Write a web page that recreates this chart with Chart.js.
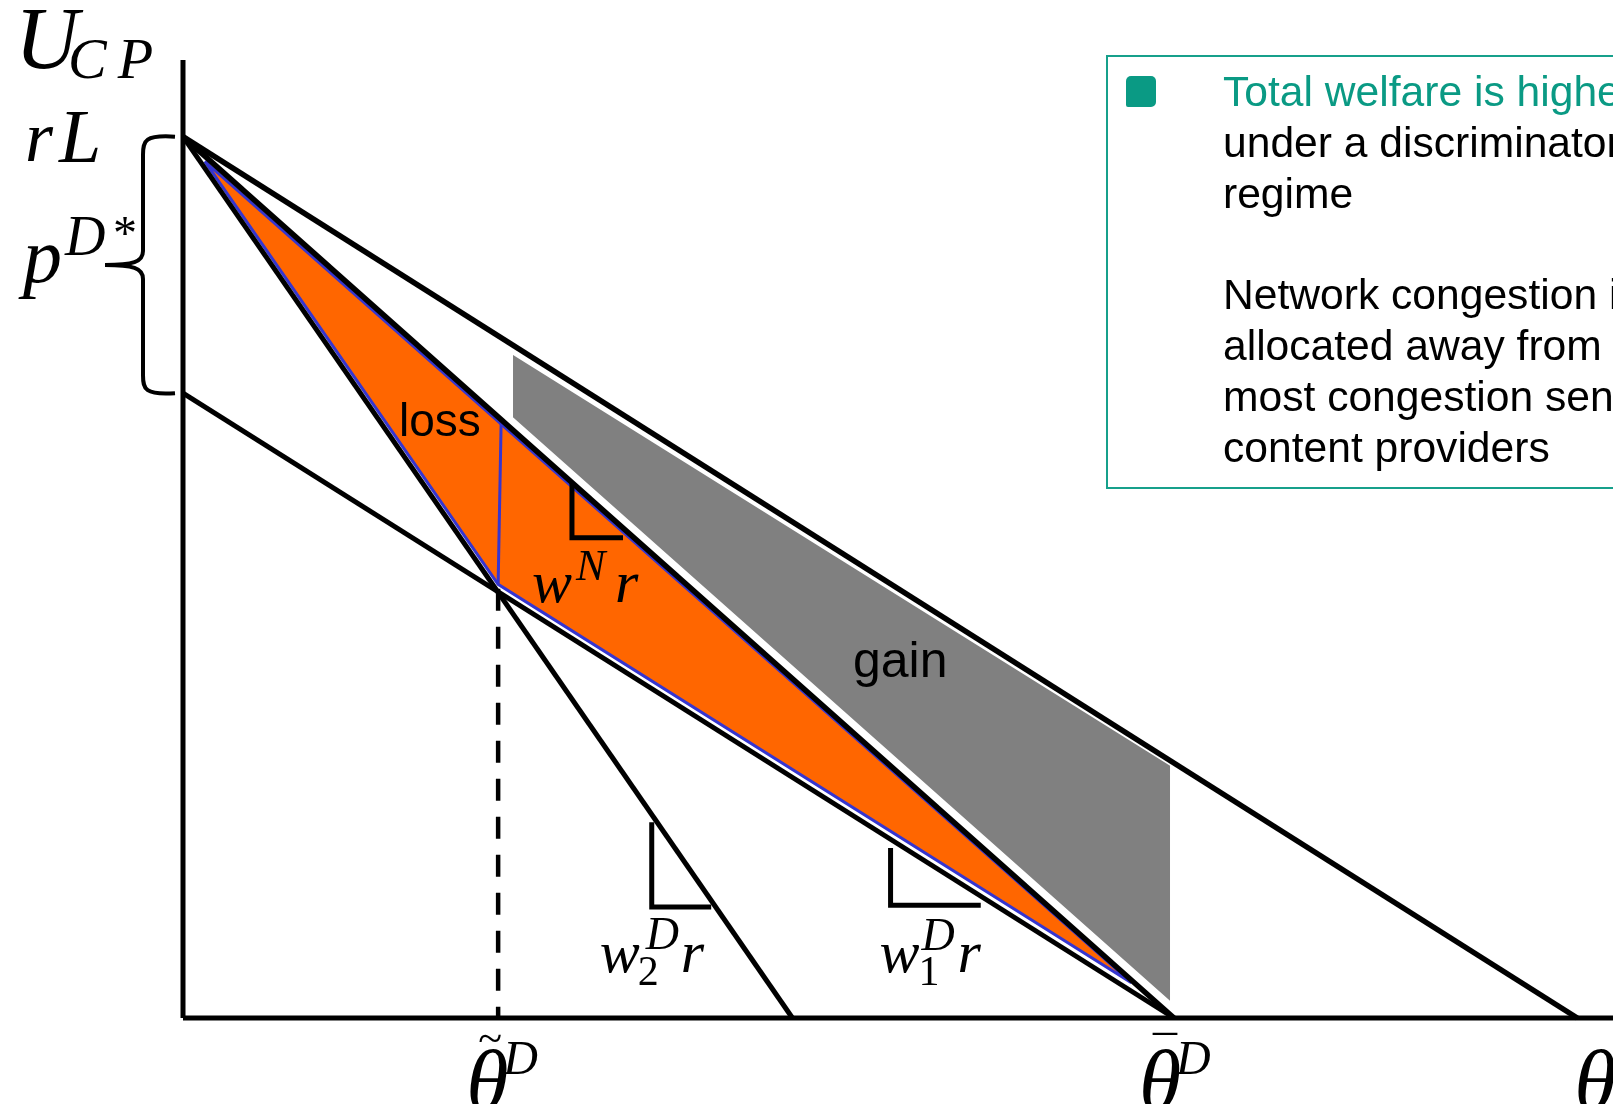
<!DOCTYPE html>
<html>
<head>
<meta charset="utf-8">
<script src="https://cdn.jsdelivr.net/npm/chart.js@4.4.1/dist/chart.umd.min.js"></script>
<style>
html,body{margin:0;padding:0;background:#fff;width:1613px;height:1104px;overflow:hidden;}
#wrap{position:relative;width:1613px;height:1104px;overflow:hidden;}
#c{position:absolute;left:0;top:0;}
.lbl{position:absolute;white-space:nowrap;color:#000;}
.serif{font-family:'Liberation Serif','Times New Roman',serif;font-style:italic;}
.up{font-family:'Liberation Serif','Times New Roman',serif;font-style:normal;}
.sans{font-family:'Liberation Sans',Arial,sans-serif;}
#box{position:absolute;left:1106px;top:55px;width:640px;height:434px;border:2px solid #16A08B;box-sizing:border-box;}
#bullet{position:absolute;left:1126px;top:76px;width:30px;height:31px;background:#0A9A84;border-radius:5px 5px 5px 2px;}
#boxtext{position:absolute;left:1223px;top:66px;font-family:'Liberation Sans',Arial,sans-serif;font-size:42.6px;line-height:50.8px;color:#000;white-space:nowrap;}
#boxtext .teal{color:#0A9A84;}
</style>
</head>
<body>
<div id="wrap">
<canvas id="c" width="1613" height="1104"></canvas>
<div id="box"></div>
<div id="bullet"></div>
<div id="boxtext">
<div class="teal">Total welfare is higher</div>
<div>under a discriminatory</div>
<div>regime</div>
<div>&nbsp;</div>
<div>Network congestion is</div>
<div>allocated away from the</div>
<div>most congestion sensitive</div>
<div>content providers</div>
</div>
</div>
<script>
// ---- values (θ on x, U_CP on y) ----
const thetaTicks = [0.318, 1.0, 1.407];          // θ̃D, θ̄D, θ (end of top line)
const thetaTickLabels = ['θ', 'θ', 'θ'];
const thetaAccents = ['~', '¯', ''];
const thetaSupers = ['D', 'D', ''];
const yTicks = [1.0, 0.709];                        // rL, lower intercept
const axisMax = [1.443, 1.087];                     // x max, y max

const topLine    = [[0, 1.0], [1.407, 0]];
const midLine    = [[0, 1.0], [1.0, 0]];
const steepLine  = [[0, 1.0], [0.615, 0]];
const lowerLine  = [[0, 0.709], [1.0, 0]];
const dashLine   = [[0.318, 0.487], [0.318, 0]];
const lossArea   = [[0.022, 0.972], [0.957, 0.040], [0.318, 0.492], [0.022, 0.972]];
const lossDivide = [[0.321, 0.675], [0.318, 0.492]];
const gainArea   = [[0.332, 0.7545], [0.332, 0.681], [0.997, 0.017], [0.997, 0.287], [0.332, 0.7545]];
const slopeMarkN = [[0.3925, 0.607], [0.3925, 0.545], [0.444, 0.545]];
const slopeMark2 = [[0.473, 0.222], [0.473, 0.126], [0.533, 0.126]];
const slopeMark1 = [[0.714, 0.193], [0.714, 0.128], [0.805, 0.128]];
const xAxisLine  = [[0, 0], [1.443, 0]];
const yAxisLine  = [[0, 0], [0, 1.087]];

const pts = a => a.map(p => ({x: p[0], y: p[1]}));
const BLACK = '#000000';
const BLUE = '#3535D0';

function lineDs(arr, width, order, extra) {
  return Object.assign({
    data: pts(arr), borderColor: BLACK, borderWidth: width, pointRadius: 0,
    fill: false, tension: 0, clip: false, order: order
  }, extra || {});
}

const bracePlugin = {
  id: 'brace',
  afterDatasetsDraw(chart) {
    const ctx = chart.ctx;
    const ax = chart.scales.x.getPixelForValue(0);
    const yT = chart.scales.y.getPixelForValue(yTicks[0]);
    const yB = chart.scales.y.getPixelForValue(yTicks[1]);
    const yM = (yT + yB) / 2;
    ctx.save();
    ctx.strokeStyle = BLACK;
    ctx.lineWidth = 4;
    ctx.beginPath();
    ctx.moveTo(ax - 8, yT);
    ctx.bezierCurveTo(ax - 38, yT - 2, ax - 40, yT + 4, ax - 40, yT + 18);
    ctx.lineTo(ax - 40, yM - 14);
    ctx.bezierCurveTo(ax - 40, yM - 3, ax - 50, yM, ax - 78, yM);
    ctx.bezierCurveTo(ax - 50, yM, ax - 40, yM + 3, ax - 40, yM + 14);
    ctx.lineTo(ax - 40, yB - 18);
    ctx.bezierCurveTo(ax - 40, yB - 4, ax - 38, yB + 2, ax - 8, yB);
    ctx.stroke();
    ctx.restore();
  }
};

const chart = new Chart(document.getElementById('c'), {
  type: 'line',
  data: {
    datasets: [
      lineDs(xAxisLine, 5, 0),
      lineDs(yAxisLine, 5, 0),
      lineDs(topLine, 5.5, 1),
      lineDs(midLine, 5.5, 1),
      lineDs(steepLine, 5, 1),
      lineDs(lowerLine, 5, 1),
      lineDs(dashLine, 4.5, 1, {borderDash: [22, 16]}),
      lineDs(slopeMarkN, 5, 2),
      lineDs(slopeMark2, 5, 2),
      lineDs(slopeMark1, 5, 2),
      lineDs(lossDivide, 3, 5, {borderColor: BLUE}),
      lineDs(lossArea, 3, 6, {borderColor: BLUE, backgroundColor: '#FF6600', fill: 'shape'}),
      lineDs(gainArea, 2, 7, {borderColor: '#FFFFFF', backgroundColor: '#808080', fill: 'shape'})
    ]
  },
  options: {
    responsive: false,
    animation: false,
    devicePixelRatio: 1,
    layout: {padding: {left: 183, right: 0, top: 60, bottom: 86}},
    plugins: {legend: {display: false}, tooltip: {enabled: false}, title: {display: false}},
    scales: {
      x: {type: 'linear', min: 0, max: axisMax[0], display: false},
      y: {type: 'linear', min: 0, max: axisMax[1], display: false}
    },
    elements: {line: {capBezierPoints: false, borderCapStyle: 'butt', borderJoinStyle: 'miter'}}
  },
  plugins: [bracePlugin]
});

// ---- text labels (real text), anchored to the chart's scales ----
const wrap = document.getElementById('wrap');
const X = v => chart.scales.x.getPixelForValue(v);
const Y = v => chart.scales.y.getPixelForValue(v);
function put(text, x, base, size, cls, extraStyle) {
  const d = document.createElement('div');
  d.className = 'lbl ' + cls;
  d.textContent = text;
  const k = cls === 'sans' ? 0.8465 : 0.8375;
  d.style.left = x + 'px';
  d.style.top = (base - size * k) + 'px';
  d.style.fontSize = size + 'px';
  d.style.lineHeight = size + 'px';
  if (extraStyle) Object.assign(d.style, extraStyle);
  wrap.appendChild(d);
}
const ax = X(0), ay = Y(0);
// axis title
put('U', ax - 168, Y(axisMax[1]) + 9, 88, 'serif');
put('CP', ax - 115, Y(axisMax[1]) + 19, 58, 'serif', {letterSpacing: '11px'});
// y labels
put('r', ax - 158, Y(yTicks[0]) + 25, 72, 'serif');
put('L', ax - 124, Y(yTicks[0]) + 25, 76, 'serif');
const yMid = (Y(yTicks[0]) + Y(yTicks[1])) / 2;
put('p', ax - 160, yMid + 17, 78, 'serif');
put('D', ax - 118, yMid - 10, 56, 'serif');
put('*', ax - 70, yMid - 16, 48, 'up');
// x labels
const thetaLeft = [-32, -35, -3];
thetaTicks.forEach((t, i) => {
  const l = X(t) + thetaLeft[i];
  put(thetaTickLabels[i], l, ay + 92, 86, 'serif');
  if (thetaAccents[i] === '~') put('~', l + 12, ay + 36, 44, 'up');
  if (thetaAccents[i] === '¯') put('¯', l + 14, ay + 52, 48, 'up');
  if (thetaSupers[i]) put(thetaSupers[i], l + 37, ay + 56, 48, 'serif');
});
// slope labels
put('w', X(slopeMarkN[0][0]) - 40, Y(slopeMarkN[1][1]) + 65, 60, 'serif');
put('N', X(slopeMarkN[0][0]) + 4, Y(slopeMarkN[1][1]) + 43, 44, 'serif');
put('r', X(slopeMarkN[0][0]) + 43, Y(slopeMarkN[1][1]) + 65, 60, 'serif');

put('w', X(slopeMark2[0][0]) - 52, Y(slopeMark2[1][1]) + 65, 60, 'serif');
put('D', X(slopeMark2[0][0]) - 6, Y(slopeMark2[1][1]) + 43, 46, 'serif');
put('2', X(slopeMark2[0][0]) - 14, Y(slopeMark2[1][1]) + 78, 42, 'up');
put('r', X(slopeMark2[0][0]) + 29, Y(slopeMark2[1][1]) + 65, 60, 'serif');

put('w', X(slopeMark1[0][0]) - 11, Y(slopeMark1[1][1]) + 67, 60, 'serif');
put('D', X(slopeMark1[0][0]) + 31, Y(slopeMark1[1][1]) + 45, 46, 'serif');
put('1', X(slopeMark1[0][0]) + 28, Y(slopeMark1[1][1]) + 80, 42, 'up');
put('r', X(slopeMark1[0][0]) + 67, Y(slopeMark1[1][1]) + 67, 60, 'serif');
// area labels
put('loss', X(0.218), Y(0.661), 46, 'sans');
put('gain', X(0.676), Y(0.387), 50, 'sans');
</script>
</body>
</html>
